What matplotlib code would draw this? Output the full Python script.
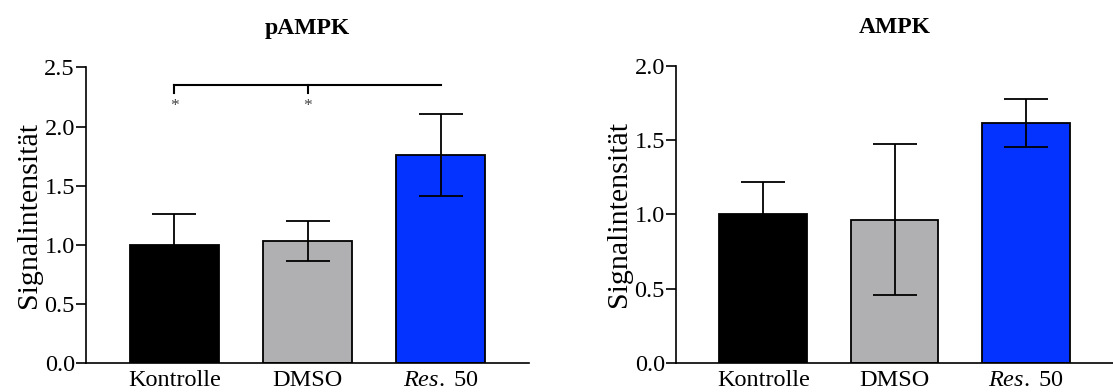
import matplotlib
matplotlib.use("Agg")
import matplotlib.pyplot as plt

plt.rcParams['font.family'] = ['Liberation Serif', 'DejaVu Serif']
plt.rcParams['mathtext.fontset'] = 'custom'
plt.rcParams['mathtext.rm'] = 'Liberation Serif'
plt.rcParams['mathtext.it'] = 'Liberation Serif:italic'

# Gruppen und Messwerte (Mittelwert +/- SEM)
groups = ['Kontrolle', 'DMSO', r'$\mathit{Res.}$ 50']
bar_colors = ['#000000', '#b0b0b2', '#0433ff']

pampk_mean = [1.00, 1.03, 1.76]
pampk_sem = [0.26, 0.17, 0.345]

ampk_mean = [1.00, 0.965, 1.615]
ampk_sem = [0.218, 0.51, 0.16]

# Signifikanz: Kontrolle und DMSO jeweils gegen Res. 50
sig_pairs = [(0, 2), (1, 2)]
sig_label = '*'


def draw_panel(ax, means, sems, title, ymax, yticks):
    x = list(range(len(groups)))
    ax.bar(x, means, width=0.67, color=bar_colors, edgecolor='black',
           linewidth=1.3, zorder=2)
    ax.errorbar(x, means, yerr=sems, fmt='none', ecolor='black',
                elinewidth=1.3, capsize=16, capthick=1.3, zorder=3)
    ax.set_xlim(-0.665, 2.665)
    ax.set_ylim(0, ymax)
    ax.set_yticks(yticks)
    ax.set_yticklabels([f'{t:.1f}' for t in yticks])
    ax.set_xticks(x)
    ax.set_xticklabels(groups)
    ax.tick_params(axis='y', direction='out', length=7, width=1.2, pad=1,
                   labelsize=17.5)
    ax.tick_params(axis='x', length=0, pad=5, labelsize=17.5)
    for side in ['top', 'right']:
        ax.spines[side].set_visible(False)
    for side in ['left', 'bottom']:
        ax.spines[side].set_linewidth(1.2)
    ax.set_ylabel('Signalintensität', fontsize=21.5)
    ax.yaxis.set_label_coords(-0.10, 0.5)
    ax.set_title(title, fontsize=17, fontweight='bold', pad=24)


fig = plt.figure(figsize=(11.13, 3.92), dpi=100)
ax1 = fig.add_axes([0.0773, 0.0732, 0.398, 0.755])
ax2 = fig.add_axes([0.6074, 0.0747, 0.3926, 0.757])

draw_panel(ax1, pampk_mean, pampk_sem, 'pAMPK', 2.5,
           [0.0, 0.5, 1.0, 1.5, 2.0, 2.5])
draw_panel(ax2, ampk_mean, ampk_sem, 'AMPK', 2.0,
           [0.0, 0.5, 1.0, 1.5, 2.0])

# Klammer ueber pAMPK mit Sternchen
bracket_y = 2.35
drop = 0.065
left = min(p[0] for p in sig_pairs)
target = sig_pairs[0][1]
ax1.plot([left, target], [bracket_y, bracket_y], color='black', lw=1.5,
         clip_on=False, zorder=4)
for a, _ in sig_pairs:
    ax1.plot([a, a], [bracket_y, bracket_y - drop], color='black', lw=1.5,
             clip_on=False, zorder=4)
    ax1.text(a, bracket_y - drop - 0.045, sig_label, ha='center', va='top',
             fontsize=12.5, color='#444444')

fig.savefig('out.png', dpi=100, facecolor='white')
